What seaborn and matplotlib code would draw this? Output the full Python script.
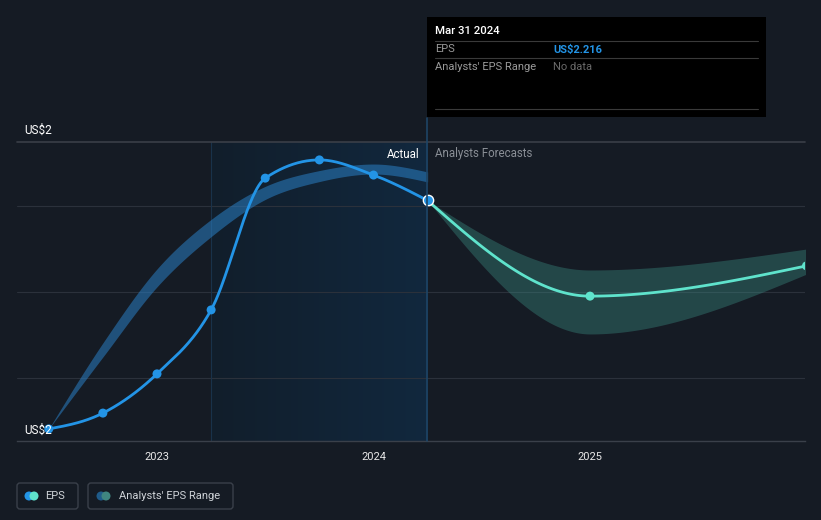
import numpy as np
import pandas as pd
import matplotlib
matplotlib.use("Agg")
import matplotlib.pyplot as plt
from matplotlib.colors import LinearSegmentedColormap
from matplotlib.patches import Rectangle, FancyBboxPatch, Ellipse
import seaborn as sns

# ---------------- data ----------------
eps_dates = [2022.5, 2022.75, 2023.0, 2023.25, 2023.5, 2023.75, 2024.0, 2024.25]
eps_values = [1.552, 1.598, 1.712, 1.898, 2.281, 2.334, 2.290, 2.216]
past_range_low = [1.552, 1.761, 1.965, 2.111, 2.219, 2.271, 2.293, 2.270]
past_range_high = [1.552, 1.802, 2.017, 2.161, 2.257, 2.303, 2.322, 2.299]
forecast_dates = [2024.25, 2025.0, 2026.0]
forecast_values = [2.216, 1.938, 2.026]
forecast_low = [2.216, 1.828, 2.002]
forecast_high = [2.216, 2.014, 2.075]
x_ticks = [2023, 2024, 2025]
x_tick_labels = ["2023", "2024", "2025"]
y_labels = ["US$2", "US$2"]
tooltip_date = "Mar 31 2024"
tooltip_eps = "US$2.216"

# ---------------- helpers ----------------
def monotone(x, y, n=60):
    x = np.asarray(x, float)
    y = np.asarray(y, float)
    h = np.diff(x)
    s = np.diff(y) / h
    m = np.zeros(len(x))
    for i in range(1, len(x) - 1):
        if s[i - 1] * s[i] <= 0:
            m[i] = 0.0
        else:
            p = (s[i - 1] * h[i] + s[i] * h[i - 1]) / (h[i - 1] + h[i])
            m[i] = (np.sign(s[i - 1]) + np.sign(s[i])) * min(abs(s[i - 1]), abs(s[i]), 0.5 * abs(p))
    m[0] = (3 * s[0] - m[1]) / 2
    m[-1] = (3 * s[-1] - m[-2]) / 2
    xs, ys = [], []
    for i in range(len(x) - 1):
        t = np.linspace(0, 1, n, endpoint=(i == len(x) - 2))
        h00 = 2 * t**3 - 3 * t**2 + 1
        h10 = t**3 - 2 * t**2 + t
        h01 = -2 * t**3 + 3 * t**2
        h11 = t**3 - t**2
        xs.append(x[i] + t * h[i])
        ys.append(h00 * y[i] + h10 * h[i] * m[i] + h01 * y[i + 1] + h11 * h[i] * m[i + 1])
    return np.concatenate(xs), np.concatenate(ys)

W, H = 821, 520
BG = "#151b24"
BLUE = "#2394e6"
TEAL = "#5fe3cc"

sns.set_theme(style="dark", rc={
    "figure.facecolor": BG, "axes.facecolor": BG, "savefig.facecolor": BG,
    "axes.edgecolor": "#3a404a", "grid.color": "#2b313b", "text.color": "#ffffff",
    "xtick.color": "#e8e8e8", "ytick.color": "#e8e8e8",
})
plt.rcParams["font.family"] = ["Roboto", "DejaVu Sans"]

fig = plt.figure(figsize=(W / 100, H / 100), dpi=100)

# main axes: pixels x 17..805, y 142..441
ax_l, ax_r, ax_t, ax_b = 17, 805, 142, 441
ax = fig.add_axes([ax_l / W, 1 - ax_b / H, (ax_r - ax_l) / W, (ax_b - ax_t) / H], zorder=1)
px_per_year = 216.5
x0 = 2023 - (157 - ax_l) / px_per_year
x1 = 2023 + (ax_r - 157) / px_per_year
k = 0.25 / 86.0
y_top = 2.2 + (206 - ax_t) * k
y_bot = 2.2 - (ax_b - 206) * k
ax.set_xlim(x0, x1)
ax.set_ylim(y_bot, y_top)

# highlight "actual" region gradient
cmap = LinearSegmentedColormap.from_list("hl", ["#121e2b", "#11283e"])
grad = np.linspace(0, 1, 256).reshape(1, -1)
ax.imshow(grad, extent=[2023.25, 2024.25, y_bot, y_top], aspect="auto", cmap=cmap,
          zorder=0.5, interpolation="bilinear")
ax.axvline(2023.25, color="#19324a", lw=0.8, zorder=0.6)

# grid lines
ax.set_yticks([1.7, 1.95, 2.2])
ax.set_yticklabels([])
ax.tick_params(axis="y", length=0)
ax.grid(axis="y", color="#2b313b", lw=0.8)
ax.grid(axis="x", visible=False)
ax.axhline(y_top, color="#3a3f48", lw=1.2, zorder=0.7, clip_on=False)
for sp in ["top", "left", "right"]:
    ax.spines[sp].set_visible(False)
ax.spines["bottom"].set_color("#3a404a")
ax.spines["bottom"].set_linewidth(1.0)

ax.set_xticks(x_ticks)
ax.set_xticklabels(x_tick_labels, fontsize=8, color="#e8e8e8")
ax.tick_params(axis="x", length=4, width=0.8, color="#4a505a", pad=4)

# past analyst range band
bx, blo = monotone(eps_dates, past_range_low)
_, bhi = monotone(eps_dates, past_range_high)
ax.fill_between(bx, blo, bhi, color="#2a7fc4", alpha=0.55, lw=0, zorder=2)

# forecast band
fx_, flo = monotone(forecast_dates, forecast_low)
_, fhi = monotone(forecast_dates, forecast_high)
ax.fill_between(fx_, flo, fhi, color="#3c8f85", alpha=0.38, lw=0, zorder=2)

# EPS actual line
ex, ey = monotone(eps_dates, eps_values)
sns.lineplot(x=ex, y=ey, ax=ax, color=BLUE, lw=2.0, zorder=4, sort=False)
sns.scatterplot(x=eps_dates[:-1], y=eps_values[:-1], ax=ax, color=BLUE, s=42,
                edgecolor="none", zorder=5)

# forecast line
fxl, fyl = monotone(forecast_dates, forecast_values)
sns.lineplot(x=fxl, y=fyl, ax=ax, color=TEAL, lw=2.0, zorder=4, sort=False)
sns.scatterplot(x=forecast_dates[1:], y=forecast_values[1:], ax=ax, color=TEAL, s=42,
                edgecolor="none", zorder=5)
sns.scatterplot(x=[eps_dates[-1]], y=[eps_values[-1]], ax=ax, color=BLUE, s=55,
                edgecolor="white", linewidth=1.0, zorder=6)
ax.set_xlabel("")
ax.set_ylabel("")

# ---------------- overlay in pixel coords ----------------
ov = fig.add_axes([0, 0, 1, 1], zorder=3)
ov.set_xlim(0, W)
ov.set_ylim(H, 0)
ov.axis("off")
ov.patch.set_alpha(0)

# divider line at last actual
ov.plot([427, 427], [118, 441], color="#1e4566", lw=1.2, zorder=1)

# tooltip
ov.add_patch(Rectangle((427, 17), 339, 100, facecolor="#000000", edgecolor="none", zorder=2))
ov.text(435, 31, tooltip_date, fontsize=8.2, color="#ffffff", fontweight="medium", va="center", zorder=3)
for yy in [41, 58, 109]:
    ov.plot([435, 758], [yy, yy], color="#3a3a3a", lw=0.8, zorder=3)
ov.text(435, 49.5, "EPS", fontsize=8, color="#9a9a9a", va="center", zorder=3)
ov.text(553, 49.5, tooltip_eps, fontsize=8, color=BLUE, fontweight="bold", va="center", zorder=3)
ov.text(435, 66.5, "Analysts' EPS Range", fontsize=8, color="#9a9a9a", va="center", zorder=3)
ov.text(553, 66.5, "No data", fontsize=8, color="#6a6a6a", va="center", zorder=3)

# y labels
ov.text(24, 130, y_labels[0], fontsize=8.5, color="#ffffff", va="center", ha="left")
ov.text(24, 430, y_labels[1], fontsize=8.5, color="#ffffff", va="center", ha="left", zorder=0.5)

# Actual / Forecast labels
ov.text(419, 154, "Actual", fontsize=8.3, color="#ffffff", va="center", ha="right")
ov.text(435, 154, "Analysts Forecasts", fontsize=8.3, color="#8a8f96", va="center", ha="left")

# legend
for (lx, lw_) in [(17, 61), (88, 145)]:
    ov.add_patch(FancyBboxPatch((lx, 483), lw_, 26, boxstyle="round,pad=0,rounding_size=3",
                                facecolor="none", edgecolor="#3a404a", lw=1.0))
for cx, col in [(29, BLUE), (34, TEAL)]:
    ov.add_patch(Ellipse((cx, 496), 9, 9, facecolor=col, edgecolor="none"))
ov.text(45, 496, "EPS", fontsize=8, color="#cfd3d8", va="center", ha="left")
for cx, col in [(101, "#1f5b8a"), (106, "#3f8580")]:
    ov.add_patch(Ellipse((cx, 496), 9, 9, facecolor=col, edgecolor="none"))
ov.text(119, 496, "Analysts' EPS Range", fontsize=8, color="#cfd3d8", va="center", ha="left")

fig.savefig("out.png", dpi=100, facecolor=BG)
